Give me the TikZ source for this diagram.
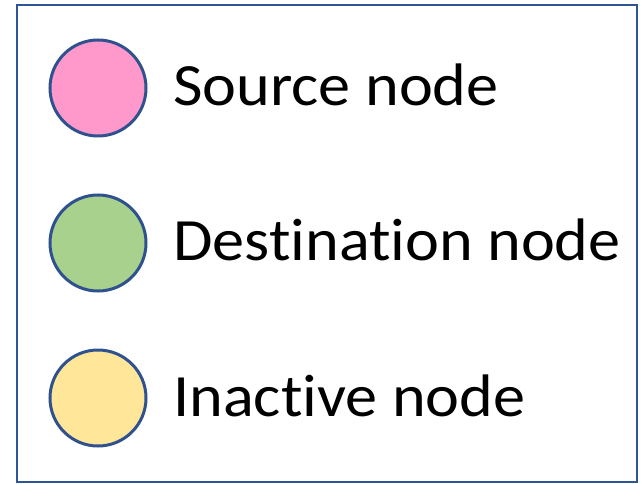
\documentclass[tikz,border=0pt]{standalone}
\usepackage{fontspec}
\setmainfont[Ligatures=NoCommon, FakeStretch=1.07]{Carlito}
\definecolor{frameblue}{HTML}{2F5597}
\definecolor{ringblue}{HTML}{2F528F}
\definecolor{srcpink}{HTML}{FF99CC}
\definecolor{dstgreen}{HTML}{A9D18E}
\definecolor{idleyellow}{HTML}{FFE699}
% keep "t" and "i" as separate glyphs
\newcommand{\tiplain}{t\kern0pt i}
\tikzset{
  legenddot/.style={circle, draw=ringblue, line width=2.25pt, minimum size=72pt, inner sep=0pt},
  legendtext/.style={anchor=base west, inner sep=0pt, font=\fontsize{45pt}{50pt}\selectfont}
}
\begin{document}
\begin{tikzpicture}[x=0.75pt, y=-0.75pt]
  \useasboundingbox (0,0) rectangle (641,484);
  % legend frame
  \draw[frameblue, line width=1.5pt] (17,5) rectangle (637,482);
  % legend entries
  \node[legenddot, fill=srcpink]   (src)  at (98,88)  {};
  \node[legenddot, fill=dstgreen]  (dst)  at (98,243) {};
  \node[legenddot, fill=idleyellow](idle) at (98,398) {};
  \node[legendtext] (srclbl)  at (173,106) {Source node};
  \node[legendtext] (dstlbl)  at (173,261) {Des\tiplain na\tiplain on node};
  \node[legendtext] (idlelbl) at (173,416) {Inac\tiplain ve node};
\end{tikzpicture}
\end{document}
